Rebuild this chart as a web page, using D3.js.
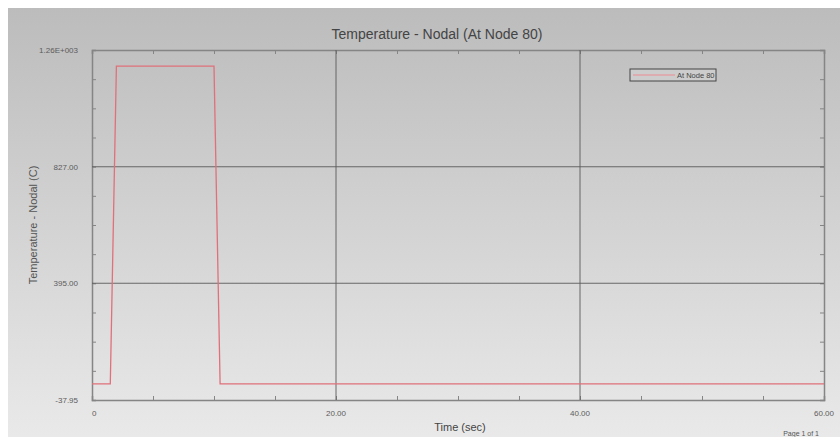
<!DOCTYPE html>
<html lang="en">
<head>
    <meta charset="UTF-8">
    <title>Temperature - Nodal (At Node 80)</title>
    <style>
        body { margin: 0; background: #fff; }
        svg { display: block; font-family: 'Liberation Sans', Arial, sans-serif; }
    </style>
</head>
<body>
<div id="chart"></div>
<script src="https://d3js.org/d3.v7.min.js"></script>
<script>
    // Data
    const timeValues = [0, 1.5, 2, 10, 10.5, 60];
    const tempValues = [22, 22, 1200, 1200, 22, 22];
    const yTicks = [-37.95, 395.0, 827.0, 1260];
    const yTickLabels = ["-37.95", "395.00", "827.00", "1.26E+003"];
    const xTicks = [0, 20, 40, 60];
    const xTickLabels = ["0", "20.00", "40.00", "60.00"];
    const seriesName = "At Node 80";

    const width = 840, height = 437;
    const margin = { top: 50, right: 16, bottom: 37, left: 92 };
    const plotW = width - margin.left - margin.right;
    const plotH = height - margin.top - margin.bottom;

    const svg = d3.select("#chart").append("svg")
        .attr("width", width)
        .attr("height", height);

    // background gradient panel
    const defs = svg.append("defs");
    const grad = defs.append("linearGradient")
        .attr("id", "bg").attr("x1", 0).attr("y1", 0).attr("x2", 0).attr("y2", 1);
    grad.append("stop").attr("offset", "0%").attr("stop-color", "#bcbcbc");
    grad.append("stop").attr("offset", "100%").attr("stop-color", "#e9e9e9");

    svg.append("rect")
        .attr("x", 8).attr("y", 8)
        .attr("width", width - 8).attr("height", height - 8)
        .attr("fill", "url(#bg)");

    const x = d3.scaleLinear().domain([0, 60]).range([0, plotW]);
    const y = d3.scaleLinear().domain([-37.95, 1260]).range([plotH, 0]);

    const g = svg.append("g")
        .attr("transform", `translate(${margin.left},${margin.top})`);

    // minor ticks (x every 5 sec, y quarter steps)
    const yStep = (1260 + 37.95) / 12;
    const yMinor = d3.range(13).map(i => -37.95 + i * yStep);
    const xMinor = d3.range(0, 61, 5);

    const axisColor = "#858585";

    g.append("g")
        .attr("transform", `translate(0,${plotH})`)
        .call(d3.axisTop(x).tickValues(xMinor).tickSize(4).tickFormat(""));
    g.append("g")
        .call(d3.axisBottom(x).tickValues(xMinor).tickSize(4).tickFormat(""));
    g.append("g")
        .call(d3.axisRight(y).tickValues(yMinor).tickSize(4).tickFormat(""));
    g.append("g")
        .attr("transform", `translate(${plotW},0)`)
        .call(d3.axisLeft(y).tickValues(yMinor).tickSize(4).tickFormat(""));

    g.selectAll(".domain").attr("stroke", axisColor).attr("stroke-width", 1.5);
    g.selectAll(".tick line").attr("stroke", axisColor);

    // grid lines
    g.append("g")
        .selectAll("line")
        .data(xTicks.slice(1, -1))
        .join("line")
        .attr("x1", d => x(d)).attr("x2", d => x(d))
        .attr("y1", 0).attr("y2", plotH)
        .attr("stroke", "#5a5a5a").attr("stroke-width", 0.9);
    g.append("g")
        .selectAll("line")
        .data(yTicks.slice(1, -1))
        .join("line")
        .attr("x1", 0).attr("x2", plotW)
        .attr("y1", d => y(d)).attr("y2", d => y(d))
        .attr("stroke", "#5a5a5a").attr("stroke-width", 0.9);

    // tick labels
    g.append("g")
        .selectAll("text")
        .data(xTicks)
        .join("text")
        .attr("x", d => x(d))
        .attr("y", plotH + 16)
        .attr("text-anchor", (d, i) => i === 0 ? "start" : "middle")
        .attr("font-size", 8)
        .attr("fill", "#5c5c5c")
        .text((d, i) => xTickLabels[i]);
    g.append("g")
        .selectAll("text")
        .data(yTicks)
        .join("text")
        .attr("x", -14)
        .attr("y", d => y(d) + 3)
        .attr("text-anchor", "end")
        .attr("font-size", 8)
        .attr("fill", "#5c5c5c")
        .text((d, i) => yTickLabels[i]);

    // data line
    const pts = timeValues.map((t, i) => [t, tempValues[i]]);
    g.append("path")
        .datum(pts)
        .attr("fill", "none")
        .attr("stroke", "#e0707a")
        .attr("stroke-width", 1.3)
        .attr("d", d3.line().x(d => x(d[0])).y(d => y(d[1])));

    // legend
    const lg = svg.append("g").attr("transform", "translate(630,69)");
    lg.append("rect")
        .attr("width", 86).attr("height", 12)
        .attr("fill", "#cdcdcd")
        .attr("stroke", "#444").attr("stroke-width", 1);
    lg.append("line")
        .attr("x1", 3).attr("x2", 45).attr("y1", 6).attr("y2", 6)
        .attr("stroke", "#e0a0a6").attr("stroke-width", 1.3);
    lg.append("text")
        .attr("x", 47).attr("y", 9)
        .attr("font-size", 7.5).attr("fill", "#444")
        .text(seriesName);

    // titles
    svg.append("text")
        .attr("x", 437).attr("y", 39)
        .attr("text-anchor", "middle")
        .attr("font-size", 14).attr("fill", "#444")
        .text("Temperature - Nodal (At Node 80)");
    svg.append("text")
        .attr("transform", `translate(37,${margin.top + plotH / 2}) rotate(-90)`)
        .attr("text-anchor", "middle")
        .attr("font-size", 11).attr("fill", "#555")
        .text("Temperature - Nodal (C)");
    svg.append("text")
        .attr("x", 460).attr("y", 431)
        .attr("text-anchor", "middle")
        .attr("font-size", 11).attr("fill", "#444")
        .text("Time (sec)");
    svg.append("text")
        .attr("x", 819).attr("y", 436)
        .attr("text-anchor", "end")
        .attr("font-size", 7).attr("fill", "#555")
        .text("Page 1 of 1");
</script>
</body>
</html>
